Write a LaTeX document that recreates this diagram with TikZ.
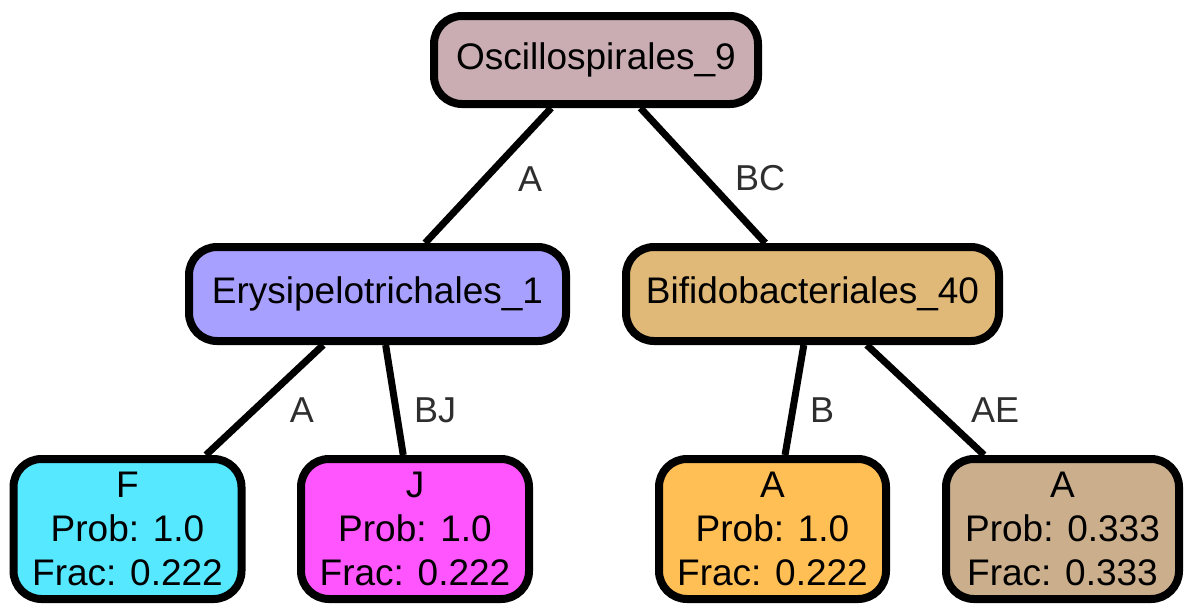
\documentclass[tikz,border=0pt]{standalone}
\usepackage{fontspec}
\setmainfont{Liberation Sans}
\usetikzlibrary{positioning}
\definecolor{taxroot}{HTML}{C9ADB3}
\definecolor{taxery}{HTML}{A8A0FF}
\definecolor{taxbif}{HTML}{E0B878}
\definecolor{leafcyan}{HTML}{55E8FF}
\definecolor{leafpink}{HTML}{FF55FF}
\definecolor{leafamber}{HTML}{FFBF55}
\definecolor{leaftan}{HTML}{CBAE8C}
\definecolor{lblink}{HTML}{2E2E2E}
\tikzset{
  tx/.style={rounded corners=28pt, draw=black, line width=8pt, align=center, inner sep=0pt,
    font=\fontsize{37}{44}\selectfont},
  inner/.style={tx, minimum height=88pt},
  leaf/.style={tx, minimum height=140pt},
  edge/.style={line width=7pt, draw=black},
  lbl/.style={font=\fontsize{36}{40}\selectfont, text=lblink, inner sep=0pt},
}
\begin{document}
\begin{tikzpicture}[x=1pt, y=-1pt]
  \useasboundingbox (0,0) rectangle (1193,613);
  % tree nodes
  \node[inner, fill=taxroot, minimum width=324pt] (osc) at (596,60) {Oscillospirales\_9};
  \node[inner, fill=taxery, minimum width=377pt, minimum height=94pt] (ery) at (377.5,294) {Erysipelotrichales\_1};
  \node[inner, fill=taxbif, minimum width=373pt, minimum height=94pt] (bif) at (812.5,294) {Bifidobacteriales\_40};
  \node[leaf, fill=leafcyan, minimum width=228pt] (lf) at (127.5,529) {F\\Prob: 1.0\\Frac: 0.222};
  \node[leaf, fill=leafpink, minimum width=228pt] (lj) at (415,529) {J\\Prob: 1.0\\Frac: 0.222};
  \node[leaf, fill=leafamber, minimum width=227pt] (la) at (772.5,529) {A\\Prob: 1.0\\Frac: 0.222};
  \node[leaf, fill=leaftan, minimum width=233pt] (lb) at (1062.5,529) {A\\Prob: 0.333\\Frac: 0.333};
  % connectors
  \draw[edge] (osc) -- (ery);
  \draw[edge] (osc) -- (bif);
  \draw[edge] (ery) -- (lf);
  \draw[edge] (ery) -- (lj);
  \draw[edge] (bif) -- (la);
  \draw[edge] (bif) -- (lb);
  % edge labels
  \node[lbl] (eoe) at (530,179) {A};
  \node[lbl] (eob) at (760,178) {BC};
  \node[lbl] (eef) at (302,410) {A};
  \node[lbl] (eej) at (435,410) {BJ};
  \node[lbl] (eba) at (822,410) {B};
  \node[lbl] (ebb) at (995,410) {AE};
\end{tikzpicture}
\end{document}
